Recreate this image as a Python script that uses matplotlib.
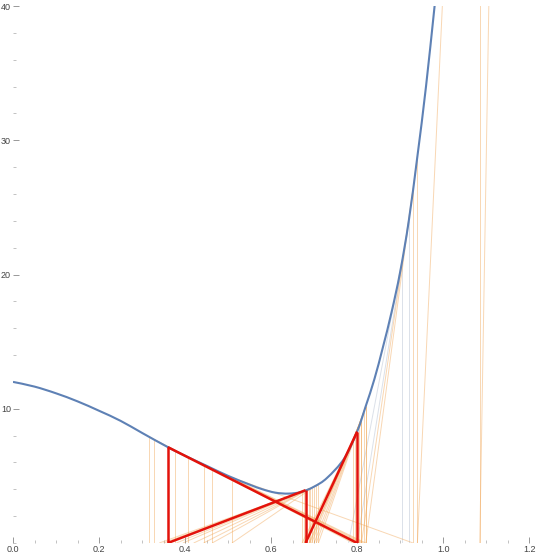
import numpy as np
import matplotlib
matplotlib.use("Agg")
import matplotlib.pyplot as plt
from matplotlib.path import Path
from matplotlib.patches import PathPatch
from matplotlib.ticker import MultipleLocator, FormatStrFormatter

# curve samples (points beyond the plot are used for the far iterations)
curve_x = [0.0, 0.05, 0.10, 0.15, 0.20, 0.25, 0.30, 0.36, 0.40, 0.45, 0.50, 0.55, 0.58, 0.61,
           0.64, 0.67, 0.70, 0.73, 0.77, 0.80, 0.82, 0.84, 0.86, 0.88, 0.90, 0.92, 0.94, 0.96,
           0.98, 1.00, 1.085, 1.25]
curve_y = [12.0, 11.65, 11.15, 10.55, 9.85, 9.1, 8.2, 7.14, 6.5, 5.75, 5.0, 4.35, 4.0, 3.75,
           3.68, 3.8, 4.2, 4.85, 6.3, 8.3, 10.2, 12.2, 14.6, 17.2, 20.2, 24.0, 28.8, 34.0,
           40.0, 46.0, 100.0, 314.0]

# Newton iterations (x positions of successive iterates)
red_cycle = [0.36, 0.80, 0.68, 0.36]
orange_orbits = [
    [0.316, 0.79, 0.672, 0.34],
    [0.327, 0.795, 0.676, 0.35],
    [0.377, 0.805, 0.688, 0.395],
    [0.406, 0.81, 0.694, 0.42],
    [0.443, 0.815, 0.70, 0.443],
    [0.463, 0.82, 0.705, 0.463],
    [0.509, 0.93, 0.81, 0.69, 0.38],
    [1.25, 1.085, 0.94, 0.82, 0.71, 0.509],
]
gray_orbits = [
    [0.92, 0.80],
    [0.905, 0.78],
]

x_ticks = [0.0, 0.2, 0.4, 0.6, 0.8, 1.0, 1.2]
y_ticks = [10, 20, 30, 40]

cx = np.array(curve_x)
cy = np.array(curve_y)


def f(x):
    return np.interp(x, cx, cy)


def smooth_path(xs, ys):
    # Catmull-Rom through the read points, rendered as cubic Bezier segments
    verts = [(xs[0], ys[0])]
    codes = [Path.MOVETO]
    n = len(xs)
    for i in range(n - 1):
        p0 = np.array([xs[max(i - 1, 0)], ys[max(i - 1, 0)]])
        p1 = np.array([xs[i], ys[i]])
        p2 = np.array([xs[i + 1], ys[i + 1]])
        p3 = np.array([xs[min(i + 2, n - 1)], ys[min(i + 2, n - 1)]])
        c1 = p1 + (p2 - p0) / 6.0
        c2 = p2 - (p3 - p1) / 6.0
        verts += [tuple(c1), tuple(c2), tuple(p2)]
        codes += [Path.CURVE4] * 3
    return Path(verts, codes)


def draw_orbit(ax, xs, color, lw, alpha, z):
    for i in range(len(xs) - 1):
        x0, x1 = xs[i], xs[i + 1]
        y0 = f(x0)
        ax.plot([x0, x0], [0, y0], color=color, lw=lw, alpha=alpha, zorder=z,
                solid_capstyle='butt')
        ax.plot([x0, x1], [y0, 0], color=color, lw=lw, alpha=alpha, zorder=z,
                solid_capstyle='butt')


fig = plt.figure(figsize=(5.4, 5.58), dpi=100)
ax = fig.add_axes([13 / 540, 15 / 558, 527 / 540, 537 / 558])

for orb in gray_orbits:
    draw_orbit(ax, orb, '#9aa8c0', 0.7, 0.35, 1)
for orb in orange_orbits:
    draw_orbit(ax, orb, '#f0a04b', 0.7, 0.42, 2)

vis = cx <= 1.0
ax.add_patch(PathPatch(smooth_path(cx[vis], cy[vis]), facecolor='none',
                       edgecolor='#5E81B5', lw=1.5, zorder=3))

draw_orbit(ax, red_cycle, '#e3120b', 1.8, 1.0, 4)

ax.set_xlim(0, 1.225)
ax.set_ylim(0, 40)
ax.set_xticks(x_ticks)
ax.set_yticks(y_ticks)
ax.xaxis.set_major_formatter(FormatStrFormatter('%.1f'))
ax.xaxis.set_minor_locator(MultipleLocator(0.05))
ax.yaxis.set_minor_locator(MultipleLocator(2))

for s in ax.spines.values():
    s.set_visible(False)

ax.tick_params(which='major', direction='in', length=4, width=0.6, color='#888888',
               labelsize=6.5, labelcolor='#444444', pad=1.5)
ax.tick_params(which='minor', direction='in', length=2, width=0.5, color='#aaaaaa')
for lab in ax.get_xticklabels() + ax.get_yticklabels():
    lab.set_family('Liberation Sans')

fig.savefig('out.png', dpi=100)
